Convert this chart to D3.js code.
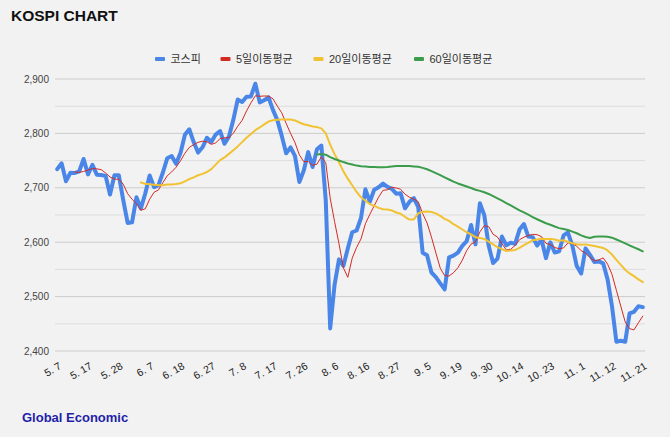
<!DOCTYPE html>
<html><head><meta charset="utf-8">
<script src="https://cdn.jsdelivr.net/npm/d3@7"></script>
<style>
html,body{margin:0;padding:0;background:#f2f2f2;}
svg{display:block;font-family:"Liberation Sans",Arial,"Noto Sans CJK KR",sans-serif;}
</style></head>
<body><svg id="chart" width="670" height="437"></svg>
<script>
const dates = ["5. 7","5. 8","5. 9","5. 10","5. 13","5. 14","5. 16","5. 17","5. 20","5. 21","5. 22","5. 23","5. 24","5. 27","5. 28","5. 29","5. 30","5. 31",
"6. 3","6. 4","6. 5","6. 7","6. 10","6. 11","6. 12","6. 13","6. 14","6. 17","6. 18","6. 19","6. 20","6. 21","6. 24","6. 25","6. 26","6. 27","6. 28",
"7. 1","7. 2","7. 3","7. 4","7. 5","7. 8","7. 9","7. 10","7. 11","7. 12","7. 15","7. 16","7. 17","7. 18","7. 19","7. 22","7. 23","7. 24","7. 25","7. 26","7. 29","7. 30","7. 31",
"8. 1","8. 2","8. 5","8. 6","8. 7","8. 8","8. 9","8. 12","8. 13","8. 14","8. 16","8. 19","8. 20","8. 21","8. 22","8. 23","8. 26","8. 27","8. 28","8. 29","8. 30",
"9. 2","9. 3","9. 4","9. 5","9. 6","9. 9","9. 10","9. 11","9. 12","9. 13","9. 19","9. 20","9. 23","9. 24","9. 25","9. 26","9. 27","9. 30",
"10. 2","10. 4","10. 7","10. 8","10. 10","10. 11","10. 14","10. 15","10. 16","10. 17","10. 18","10. 21","10. 22","10. 23","10. 24","10. 25","10. 28","10. 29","10. 30","10. 31",
"11. 1","11. 4","11. 5","11. 6","11. 7","11. 8","11. 11","11. 12","11. 13","11. 14","11. 15","11. 18","11. 19","11. 20","11. 21"];

const kospi = [2734.36,2745.05,2712.14,2727.63,2727.21,2730.34,2753.00,2724.62,2742.14,2724.18,
2723.46,2721.81,2687.60,2722.99,2722.85,2677.30,2635.44,2636.52,2682.52,2662.10,
2689.50,2722.67,2701.17,2705.00,2728.17,2754.45,2758.42,2744.10,2763.92,2797.33,
2807.63,2784.06,2764.73,2774.39,2792.05,2784.26,2797.82,2804.31,2780.86,2794.01,
2824.94,2862.23,2857.76,2867.38,2867.99,2891.35,2857.00,2860.92,2866.09,2843.29,
2824.35,2795.46,2763.51,2774.29,2758.71,2710.65,2731.90,2765.52,2738.19,2770.69,
2777.68,2676.19,2441.55,2522.15,2568.41,2556.73,2588.43,2618.30,2621.50,2644.50,
2697.23,2674.36,2696.63,2701.13,2707.67,2701.69,2698.01,2689.25,2689.83,2662.28,
2674.31,2681.00,2664.63,2580.80,2576.20,2544.28,2535.93,2524.35,2513.37,2572.09,
2575.41,2580.80,2593.37,2602.01,2631.68,2596.32,2671.57,2649.78,2593.27,2561.69,
2569.71,2610.38,2594.36,2599.16,2596.91,2623.25,2633.45,2610.36,2609.30,2593.82,
2604.92,2570.70,2599.62,2581.03,2583.27,2612.43,2617.80,2593.79,2556.15,2542.36,
2588.65,2576.88,2563.51,2564.63,2561.15,2531.66,2482.57,2417.08,2418.86,2416.86,
2469.07,2471.95,2482.12,2480.63];

const ma5 = [null,null,null,null,
2729.2,2728.4,2730.0,2732.6,2735.4,2734.8,2733.4,2727.2,2719.8,2716.0,
2715.8,2706.6,2689.2,2679.0,2671.0,2658.8,2661.4,2679.0,2691.8,2696.2,
2709.4,2722.2,2729.2,2737.8,2749.6,2763.4,2774.2,2779.4,2783.6,2785.6,
2784.6,2779.8,2782.6,2790.4,2791.8,2792.2,2800.4,2813.2,2824.0,2841.2,
2856.0,2869.2,2868.2,2868.8,2868.6,2863.6,2850.2,2837.8,2818.4,2800.0,
2783.2,2760.6,2748.0,2748.4,2741.2,2743.6,2757.0,2745.8,2681.0,2637.8,
2597.2,2553.0,2535.4,2570.6,2590.6,2606.0,2634.0,2651.2,2667.0,2682.8,
2695.4,2696.4,2701.2,2699.6,2697.4,2688.2,2682.6,2679.2,2674.4,2652.6,
2635.4,2609.4,2580.4,2552.2,2538.6,2537.8,2544.0,2553.0,2566.8,2584.6,
2596.6,2600.8,2619.0,2630.4,2628.6,2614.6,2609.4,2597.0,2585.8,2587.0,
2594.0,2604.6,2609.2,2612.4,2614.4,2613.8,2610.2,2597.8,2595.8,2590.2,
2588.0,2589.4,2598.8,2597.6,2592.6,2584.4,2579.8,2571.6,2565.6,2567.4,
2571.2,2559.8,2541.0,2511.6,2482.4,2453.6,2441.0,2438.8,2451.8,2464.2];

const ma20 = [null,null,null,null,null,null,null,null,null,null,
null,null,null,null,null,null,null,null,null,
2709.7,2707.5,2706.4,2705.8,2704.7,2704.7,2705.9,2706.2,2707.1,2708.2,
2711.9,2716.1,2719.2,2723.1,2725.6,2729.1,2734.4,2742.6,2750.9,2755.8,
2762.4,2769.2,2776.1,2784.0,2792.1,2799.1,2805.9,2810.9,2816.7,2821.8,
2824.1,2824.9,2825.5,2825.4,2825.4,2823.8,2820.1,2816.8,2814.9,2812.8,
2811.6,2809.3,2800.0,2779.2,2761.9,2746.9,2730.2,2716.8,2704.6,2692.4,
2682.5,2676.2,2670.1,2666.8,2663.1,2660.6,2660.1,2658.4,2654.6,2652.2,
2646.7,2641.5,2641.8,2652.9,2655.9,2656.3,2655.6,2653.0,2648.3,2642.9,
2639.2,2633.1,2628.5,2623.3,2618.3,2614.5,2609.2,2607.9,2606.0,2601.1,
2596.1,2590.9,2587.4,2583.8,2584.7,2585.8,2589.7,2594.6,2598.9,2603.7,
2604.8,2606.3,2605.8,2606.1,2605.1,2602.6,2603.4,2600.7,2597.9,2596.1,
2595.1,2596.0,2594.4,2592.9,2591.2,2589.4,2584.8,2577.3,2567.7,2558.2,
2549.3,2542.5,2537.6,2531.7,2526.7];

const ma60 = [null,null,null,null,null,null,null,null,null,null,
null,null,null,null,null,null,null,null,null,null,
null,null,null,null,null,null,null,null,null,null,
null,null,null,null,null,null,null,null,null,null,
null,null,null,null,null,null,null,null,null,null,
null,null,null,null,null,null,null,null,null,
2761.2,2762.0,2760.8,2756.3,2752.9,2750.2,2747.3,2744.6,2742.8,2740.8,
2739.5,2739.1,2738.3,2738.4,2738.0,2737.8,2738.2,2739.3,2740.1,2740.2,
2740.2,2740.0,2739.3,2738.7,2736.6,2734.1,2730.6,2726.9,2723.2,2719.0,
2715.3,2711.4,2708.0,2705.1,2702.3,2699.6,2696.5,2694.4,2691.8,2688.7,
2684.8,2680.6,2676.4,2672.0,2667.5,2663.0,2658.5,2654.8,2650.6,2646.3,
2642.2,2638.5,2634.8,2632.0,2628.8,2625.9,2624.2,2622.3,2619.5,2616.4,
2612.6,2609.5,2607.8,2609.9,2610.6,2610.5,2610.0,2608.3,2604.9,2601.6,
2597.8,2594.0,2590.6,2587.0,2583.3];

const seriesNames = ["코스피","5일이동평균","20일이동평균","60일이동평균"];
const seriesColors = ["#4a86e8","#d42a24","#f1c232","#3b9d4b"];
const seriesWidths = [4,1,2,2];
const yTicks = [2400,2500,2600,2700,2800,2900];
const yMinorTicks = [2450,2550,2650,2750,2850];
const tickLabels = ["5. 7","5. 17","5. 28","6. 7","6. 18","6. 27","7. 8","7. 17","7. 26","8. 6","8. 16","8. 27","9. 5","9. 19","9. 30","10. 14","10. 23","11. 1","11. 12","11. 21"];

const svg = d3.select("#chart");
svg.append("rect").attr("width",670).attr("height",437).attr("fill","#f2f2f2");

const x = d3.scalePoint().domain(dates).range([55,645]).padding(0.5);
const y = d3.scaleLinear().domain([2400,2900]).range([351,79]);

// grid
svg.append("g").selectAll("line").data(yMinorTicks).join("line")
  .attr("x1",55).attr("x2",645).attr("y1",d=>y(d)).attr("y2",d=>y(d))
  .attr("stroke","#dddddd").attr("stroke-width",1);
svg.append("g").selectAll("line").data(yTicks).join("line")
  .attr("x1",55).attr("x2",645).attr("y1",d=>y(d)).attr("y2",d=>y(d))
  .attr("stroke","#cccccc").attr("stroke-width",1);

// y labels
svg.append("g").selectAll("text").data(yTicks).join("text")
  .attr("x",49).attr("y",d=>y(d)).attr("dy","0.35em")
  .attr("text-anchor","end").attr("font-size",10).attr("fill","#444")
  .text(d=>d3.format(",")(d));

// x labels
svg.append("g").selectAll("text").data(tickLabels).join("text")
  .attr("transform",d=>`translate(${x(d)+3},${365}) rotate(-30)`)
  .attr("dy","0.35em").attr("text-anchor","end").attr("font-size",10.5).attr("fill","#222")
  .text(d=>d);

// lines
const allSeries = [kospi, ma5, ma20, ma60];
allSeries.forEach((s,i)=>{
  const line = d3.line().defined(d=>d[1]!=null).x(d=>x(d[0])).y(d=>y(d[1]));
  svg.append("path").datum(dates.map((dt,j)=>[dt,s[j]]))
    .attr("d",line).attr("fill","none").attr("stroke",seriesColors[i])
    .attr("stroke-width",seriesWidths[i]).attr("stroke-linejoin","round").attr("stroke-linecap","round");
});

// legend
const legendSwatchX = [155,220.5,313.5,414];
const lg = svg.append("g").attr("transform","translate(0,59)");
seriesNames.forEach((n,i)=>{
  const g = lg.append("g").attr("transform",`translate(${legendSwatchX[i]},0)`);
  g.append("rect").attr("x",0).attr("y",-2).attr("width",10).attr("height",4).attr("rx",1).attr("fill",seriesColors[i]);
  g.append("text").attr("x",15.5).attr("y",0).attr("dy","0.35em").attr("font-size",11).attr("fill","#333").text(n);
});

// title & footer
svg.append("text").attr("x",11).attr("y",21).attr("font-size",15.5).attr("font-weight","bold").attr("fill","#111").text("KOSPI CHART");
svg.append("text").attr("x",22).attr("y",422).attr("font-size",13).attr("font-weight","bold").attr("fill","#1f1fa8").text("Global Economic");
</script></body></html>
